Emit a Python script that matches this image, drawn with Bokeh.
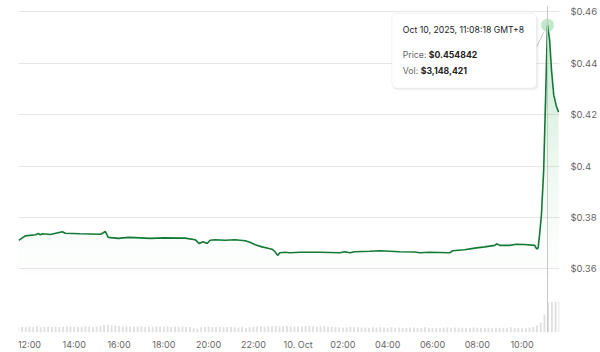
import numpy as np
import pandas as pd
from bokeh.plotting import figure
from bokeh.models import Range1d, FixedTicker, Span, BoxAnnotation, Label
from bokeh.embed import file_html
from bokeh.resources import INLINE

# ---------------- data ----------------
price_times = [
    "2025-10-09 11:31", "2025-10-09 11:49", "2025-10-09 12:16", "2025-10-09 12:24",
    "2025-10-09 12:29", "2025-10-09 12:35", "2025-10-09 12:56", "2025-10-09 13:28",
    "2025-10-09 13:36", "2025-10-09 14:16", "2025-10-09 15:10", "2025-10-09 15:18",
    "2025-10-09 15:23", "2025-10-09 15:31", "2025-10-09 15:58", "2025-10-09 16:25",
    "2025-10-09 16:57", "2025-10-09 17:24", "2025-10-09 18:00", "2025-10-09 18:57",
    "2025-10-09 19:24", "2025-10-09 19:35", "2025-10-09 19:45", "2025-10-09 19:56",
    "2025-10-09 20:04", "2025-10-09 20:17", "2025-10-09 20:44", "2025-10-09 21:11",
    "2025-10-09 21:38", "2025-10-09 21:51", "2025-10-09 22:05", "2025-10-09 22:23",
    "2025-10-09 22:39", "2025-10-09 22:50", "2025-10-09 22:58", "2025-10-09 23:05",
    "2025-10-09 23:11", "2025-10-09 23:25", "2025-10-09 23:38", "2025-10-10 00:05",
    "2025-10-10 00:58", "2025-10-10 01:52", "2025-10-10 02:05", "2025-10-10 02:19",
    "2025-10-10 02:32", "2025-10-10 03:12", "2025-10-10 03:39", "2025-10-10 04:06",
    "2025-10-10 04:32", "2025-10-10 05:13", "2025-10-10 05:26", "2025-10-10 05:53",
    "2025-10-10 06:19", "2025-10-10 06:46", "2025-10-10 06:54", "2025-10-10 07:26",
    "2025-10-10 07:53", "2025-10-10 08:20", "2025-10-10 08:47", "2025-10-10 08:52",
    "2025-10-10 09:00", "2025-10-10 09:27", "2025-10-10 09:45", "2025-10-10 10:07",
    "2025-10-10 10:34", "2025-10-10 10:39", "2025-10-10 10:43", "2025-10-10 10:47",
    "2025-10-10 10:52", "2025-10-10 10:58", "2025-10-10 11:03", "2025-10-10 11:06",
    "2025-10-10 11:08:18", "2025-10-10 11:14", "2025-10-10 11:19", "2025-10-10 11:25",
    "2025-10-10 11:32", "2025-10-10 11:38",
]
prices = [
    0.3710, 0.3728, 0.3732, 0.3737,
    0.3732, 0.3736, 0.3733, 0.3744,
    0.3738, 0.3736, 0.3734, 0.3740,
    0.3745, 0.3722, 0.3718, 0.3722,
    0.3720, 0.3718, 0.3720, 0.3719,
    0.3713, 0.3698, 0.3705, 0.3698,
    0.3711, 0.3713, 0.3711, 0.3713,
    0.3709, 0.3703, 0.3693, 0.3685,
    0.3680, 0.3676, 0.3666, 0.3652,
    0.3662, 0.3664, 0.3662, 0.3664,
    0.3664, 0.3662, 0.3666, 0.3662,
    0.3666, 0.3668, 0.3670, 0.3668,
    0.3666, 0.3665, 0.3662, 0.3664,
    0.3663, 0.3662, 0.3670, 0.3674,
    0.3680, 0.3685, 0.3691, 0.3697,
    0.3691, 0.3691, 0.3695, 0.3694,
    0.3691, 0.3677, 0.3680, 0.3732,
    0.3810, 0.3984, 0.4256, 0.4431,
    0.454842, 0.4489, 0.4373, 0.4276,
    0.4233, 0.4210,
]

# volume ($k) every 10 minutes starting 2025-10-09 11:30
vol_start = "2025-10-09 11:30"
volumes = [
    55, 60, 62,
    64, 58, 66, 60, 62, 65,
    60, 63, 58, 61, 66, 62,
    64, 60, 62, 67, 63, 60,
    65, 72, 80, 85, 78, 74,
    70, 66, 64, 68, 62, 65,
    63, 60, 64, 62, 66, 61,
    62, 65, 60, 63, 61, 64,
    60, 58, 45, 40, 55, 62,
    64, 60, 58, 62, 56, 60,
    58, 55, 50, 62, 48, 57,
    60, 64, 68, 62, 66, 70,
    72, 68, 65, 70, 66, 64,
    68, 66, 70, 72, 68, 65,
    66, 70, 64, 62, 58, 55,
    52, 55, 58, 54, 56, 52,
    54, 50, 55, 52, 56, 53,
    52, 55, 50, 54, 48, 52,
    50, 53, 48, 52, 55, 50,
    52, 48, 46, 50, 55, 52,
    54, 50, 52, 48, 51, 53,
    50, 52, 48, 51, 49, 52,
    50, 48, 52, 55, 50, 47,
    45, 48, 52, 60, 75, 107,
    190, 322, 325, 328, 330,
]

x_tick_times = [
    "2025-10-09 12:00", "2025-10-09 14:00", "2025-10-09 16:00", "2025-10-09 18:00",
    "2025-10-09 20:00", "2025-10-09 22:00", "2025-10-10 00:00", "2025-10-10 02:00",
    "2025-10-10 04:00", "2025-10-10 06:00", "2025-10-10 08:00", "2025-10-10 10:00",
]
x_tick_labels = ["12:00", "14:00", "16:00", "18:00", "20:00", "22:00", "10. Oct",
                 "02:00", "04:00", "06:00", "08:00", "10:00"]
y_ticks = [0.36, 0.38, 0.40, 0.42, 0.44, 0.46]
y_tick_labels = ["$0.36", "$0.38", "$0.4", "$0.42", "$0.44", "$0.46"]

tooltip_time = "Oct 10, 2025, 11:08:18 GMT+8"
tooltip_price = "$0.454842"
tooltip_vol = "$3,148,421"

# ---------------- helpers ----------------
def ms(s):
    return pd.Timestamp(s).value / 1e6

t = np.array([ms(s) for s in price_times])
pr = np.array(prices)
vt = np.array([ms(vol_start) + i * 600000.0 for i in range(len(volumes))])

X0, X1 = ms("2025-10-09 11:30:34"), ms("2025-10-10 11:40:24")
Y0, Y1 = 0.33515, 0.46252
FL, FW, FT, FH = 18, 542, 5, 328  # frame geometry in px

def xd(px):
    return X0 + (px - FL) / FW * (X1 - X0)

def yd(py):
    return Y1 - (py - FT) / FH * (Y1 - Y0)

FONT = "Inter"
GREEN_LINE = "#127a35"
GREEN_FILL = "#2fb34f"

p = figure(width=600, height=352, x_axis_type="datetime", y_axis_location="right",
           x_range=Range1d(X0, X1), y_range=Range1d(Y0, Y1),
           output_backend="svg", toolbar_location=None,
           min_border_left=FL, min_border_right=600 - FL - FW,
           min_border_top=FT, min_border_bottom=352 - FT - FH)
p.outline_line_color = None
p.background_fill_color = "white"
p.border_fill_color = "white"

p.extra_y_ranges = {"vol": Range1d(0, 3500)}

# volume bars
p.vbar(x=vt, top=np.array(volumes, dtype=float), width=300000, bottom=0,
       y_range_name="vol", fill_color="#e0e0e0", line_color=None)

# gradient area fill
base = 0.357
levels = np.linspace(base, Y1, 30)
for a, b in zip(levels[:-1], levels[1:]):
    mid = (a + b) / 2
    tt = (mid - base) / (Y1 - base)
    alpha = 0.012 + 0.30 * tt ** 1.5
    y2 = np.clip(pr, a, b)
    p.varea(x=t, y1=np.full_like(pr, a), y2=y2, fill_color=GREEN_FILL,
            fill_alpha=alpha)

# crosshair
peak_i = int(np.argmax(pr))
p.add_layout(Span(location=t[peak_i], dimension="height", line_color="#c8c8c8",
                  line_width=1))

# price line
p.line(t, pr, line_color=GREEN_LINE, line_width=1.6)

# hover halo
p.scatter([t[peak_i]], [pr[peak_i]], size=13, fill_color=GREEN_FILL,
          fill_alpha=0.3, line_color=None)

# axes
xa = p.xaxis[0]
xa.ticker = FixedTicker(ticks=[ms(s) for s in x_tick_times])
xa.major_label_overrides = {ms(s): lab for s, lab in zip(x_tick_times, x_tick_labels)}
xa.axis_line_color = None
xa.major_tick_line_color = None
xa.minor_tick_line_color = None
xa.major_tick_out = 0
xa.major_tick_in = 0
xa.minor_tick_out = 0
xa.major_label_text_color = "#666666"
xa.major_label_text_font = FONT
xa.major_label_text_font_size = "9px"
xa.major_label_standoff = 6

ya = p.yaxis[0]
ya.ticker = FixedTicker(ticks=y_ticks)
ya.major_label_overrides = {v: lab for v, lab in zip(y_ticks, y_tick_labels)}
ya.axis_line_color = None
ya.major_tick_line_color = None
ya.minor_tick_line_color = None
ya.major_tick_out = 0
ya.major_tick_in = 0
ya.minor_tick_out = 0
ya.major_label_text_color = "#666666"
ya.major_label_text_font = FONT
ya.major_label_text_font_size = "9.5px"
ya.major_label_text_baseline = "alphabetic"
ya.major_label_standoff = 11

p.xgrid.grid_line_color = None
p.ygrid.grid_line_color = "#e6e6e6"
p.ygrid.ticker = FixedTicker(ticks=y_ticks)

# tooltip
p.add_layout(BoxAnnotation(left=xd(393), right=xd(539), top=yd(15), bottom=yd(90),
                           fill_color="black", fill_alpha=0.06, line_color=None,
                           border_radius=5))
p.add_layout(BoxAnnotation(left=xd(392), right=xd(537), top=yd(13), bottom=yd(88),
                           fill_color="white", fill_alpha=1.0, line_color="#d4d4d4",
                           line_width=1, border_radius=5))
p.segment(x0=[xd(537)], y0=[yd(47)], x1=[xd(544)], y1=[yd(32)],
          line_color="#c8c8c8", line_width=1)

def lab(px, py, text, color="#333333", bold=False):
    p.add_layout(Label(x=xd(px), y=yd(py), text=text, text_color=color,
                       text_font=FONT, text_font_size="8.7px",
                       text_font_style="bold" if bold else "normal",
                       text_baseline="middle", text_align="left"))

lab(403, 30, tooltip_time, "#222222")
lab(403, 55, "Price:", "#666666")
lab(429, 55, tooltip_price, "#222222", bold=True)
lab(403, 71, "Vol:", "#666666")
lab(421, 71, tooltip_vol, "#222222", bold=True)

open("out.html", "w").write(file_html(p, INLINE))
